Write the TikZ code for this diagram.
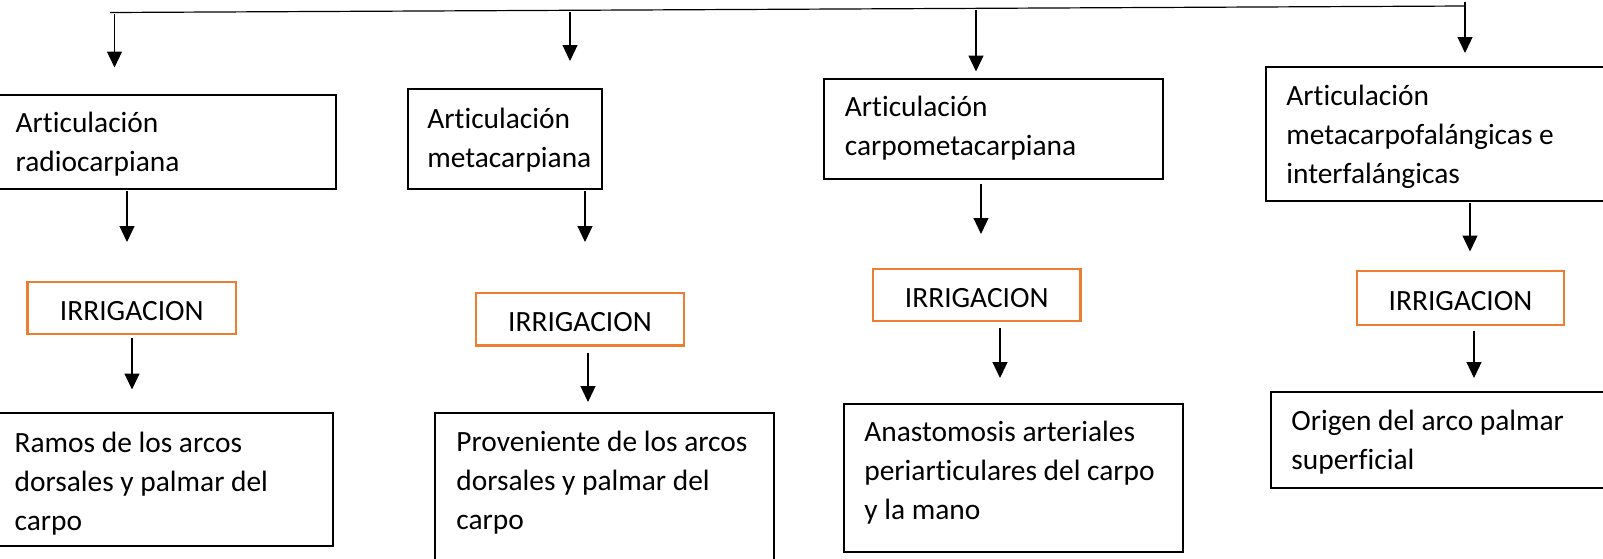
\documentclass[tikz,border=0pt]{standalone}
\usepackage{fontspec}
\setmainfont{Carlito}[Ligatures={NoCommon,NoContextual,NoRequired},Contextuals=NoAlternate]
\usetikzlibrary{arrows.meta,fit}
\definecolor{orng}{HTML}{ED7D31}
\begin{document}
\begin{tikzpicture}[x=0.5pt,y=-0.5pt,
  box/.style={draw, line width=0.7pt, inner sep=0pt},
  irr/.style={draw=orng, line width=1.2pt, inner sep=0pt},
  txt/.style={inner sep=0pt, anchor=west, align=left, font=\fontsize{14.7pt}{19.45pt}\selectfont},
  arr/.style={-{Triangle[width=7.5pt,length=8pt]}, line width=0.6pt},
  ln/.style={line width=0.6pt}]
\useasboundingbox (0,0) rectangle (1603,558);
% top line
\coordinate (t0) at (110,12.5);
\coordinate (t1) at (1465,6);
\draw[ln] (t0) -- (t1);
% top arrows
\coordinate (a1s) at (114.5,14);  \coordinate (a1e) at (114.5,67.5);
\coordinate (a2s) at (570,12);    \coordinate (a2e) at (570,61);
\coordinate (a3s) at (976,10);    \coordinate (a3e) at (976,71.5);
\coordinate (a4s) at (1465,2);    \coordinate (a4e) at (1465,53);
\draw[arr] (a1s) -- (a1e);
\draw[arr] (a2s) -- (a2e);
\draw[arr] (a3s) -- (a3e);
\draw[arr] (a4s) -- (a4e);
% first row boxes
\node[box, fit={(-5,95) (336,189)}] (b1) {};
\node[box, fit={(408,89) (602,189)}] (b2) {};
\node[box, fit={(824,79) (1163,179)}] (b3) {};
\node[box, fit={(1266,67) (1610,201)}] (b4) {};
\node[txt] (b1t) at (15.3,144) {Articulación\\radiocarpiana};
\node[txt] (b2t) at (427,140.6) {Articulación\\metacarpiana};
\node[txt] (b3t) at (844.5,127.8) {Articulación\\carpometacarpiana};
\node[txt] (b4t) at (1286,136.5) {Articulación\\metacarpofalángicas e\\interfalángicas};
% arrows to irrigacion
\coordinate (c1s) at (127,191);  \coordinate (c1e) at (127,242);
\coordinate (c2s) at (585,191);  \coordinate (c2e) at (585,242);
\coordinate (c3s) at (981,184);  \coordinate (c3e) at (981,234);
\coordinate (c4s) at (1470,203); \coordinate (c4e) at (1470,251.5);
\draw[arr] (c1s) -- (c1e);
\draw[arr] (c2s) -- (c2e);
\draw[arr] (c3s) -- (c3e);
\draw[arr] (c4s) -- (c4e);
% irrigacion boxes
\node[irr, fit={(27.6,282) (236,334)}] (o1) {};
\node[irr, fit={(476,293) (684,345.5)}] (o2) {};
\node[irr, fit={(873,269) (1080.5,321)}] (o3) {};
\node[irr, fit={(1357,271) (1564,325)}] (o4) {};
\node[txt, anchor=center] (o1t) at ([yshift=-1.5pt]o1.center) {IRRIGACION};
\node[txt, anchor=center] (o2t) at ([yshift=-1.5pt]o2.center) {IRRIGACION};
\node[txt, anchor=center] (o3t) at ([yshift=-1.5pt]o3.center) {IRRIGACION};
\node[txt, anchor=center] (o4t) at ([yshift=-1.5pt]o4.center) {IRRIGACION};
% arrows to bottom
\coordinate (d1s) at (132,338);  \coordinate (d1e) at (132,389.5);
\coordinate (d2s) at (588,353);  \coordinate (d2e) at (588,402);
\coordinate (d3s) at (1000,328); \coordinate (d3e) at (1000,378);
\coordinate (d4s) at (1474,331); \coordinate (d4e) at (1474,378);
\draw[arr] (d1s) -- (d1e);
\draw[arr] (d2s) -- (d2e);
\draw[arr] (d3s) -- (d3e);
\draw[arr] (d4s) -- (d4e);
% bottom boxes
\node[box, fit={(-5,413) (333,546)}] (e1) {};
\node[box, fit={(435,413) (774,575)}] (e2) {};
\node[box, fit={(844,404) (1183,552)}] (e3) {};
\node[box, fit={(1271,392) (1610,488)}] (e4) {};
\node[txt] (e1t) at (14.3,483.5) {Ramos de los arcos\\dorsales y palmar del\\carpo};
\node[txt] (e2t) at (456,482.5) {Proveniente de los arcos\\dorsales y palmar del\\carpo};
\node[txt] (e3t) at (864,472.3) {Anastomosis arteriales\\periarticulares del carpo\\y la mano};
\node[txt] (e4t) at (1291,442) {Origen del arco palmar\\superficial};
\end{tikzpicture}
\end{document}
